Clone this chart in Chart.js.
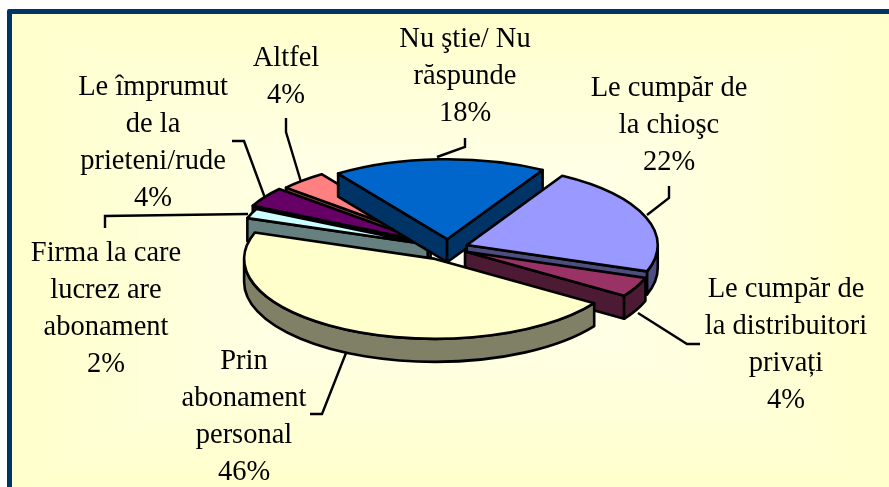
<!DOCTYPE html>
<html>
<head>
<meta charset="utf-8">
<style>
html,body{margin:0;padding:0;background:#fff;width:889px;height:487px;overflow:hidden}
#panel{position:absolute;left:7px;top:9px;width:900px;height:500px;box-sizing:border-box;border:5px solid #003366;border-radius:2px;
background-image:linear-gradient(to right,#FFFFCC 0,#FFFFF4 50%,#FFFFCC 100%),linear-gradient(to bottom,#FFFFCC 0,#FFFFF4 50%,#FFFFCC 100%);
background-size:877px 474px;background-repeat:no-repeat;background-blend-mode:darken}
#c{position:absolute;left:0;top:0}
</style>
<script src="https://cdn.jsdelivr.net/npm/chart.js@4"></script>
</head>
<body>
<div id="panel"></div>
<canvas id="c" width="889" height="487"></canvas>
<script>
// Data
const categories = ["Le cumpăr de la chioşc","Le cumpăr de la distribuitori privați","Prin abonament personal","Firma la care lucrez are abonament","Le împrumut de la prieteni/rude","Altfel","Nu ştie/ Nu răspunde"];
const values = [22,4,46,2,4,4,18];
const labelLines = [
  ["Le cumpăr de","la chioşc"],
  ["Le cumpăr de","la distribuitori","privați"],
  ["Prin","abonament","personal"],
  ["Firma la care","lucrez are","abonament"],
  ["Le împrumut","de la","prieteni/rude"],
  ["Altfel"],
  ["Nu ştie/ Nu","răspunde"]
];

// Styles
const topColors  = ["#9999FF","#993366","#FFFFCC","#CCFFFF","#660066","#FF8080","#0066CC"];
const wallColors = ["#4D4D80","#4D1A33","#808066","#668080","#330033","#804040","#003366"];

// Layout of the pseudo-3D pie
const pieRadius = 191;
const tilt = 80/191;
const depth = 23;
const explode = [20,19,29,22,29,26,21];
const paintOrder = [5,4,3,6,0,1,2];
const labelCenters = [669,786,244,106,153,286,465];
const labelTops = [89,290,362,254,88,59,40];
const lineStep = 36.7;
const leaders = [
  [[647,215],[669,198],[669,186]],
  [[638,313],[687,344],[700,344]],
  [[346,353],[322,414],[310,414]],
  [[248,214],[105,216],[105,228]],
  [[265,198],[244,141],[232,141]],
  [[301,182],[286,132],[286,118]],
  [[437,157],[465,147],[465,138]]
];

const pie3d = {
  id:"pie3d",
  beforeDatasetsDraw(chart){
    const ctx = chart.ctx;
    const arcs = chart.getDatasetMeta(0).data;
    ctx.lineJoin = "round";
    paintOrder.forEach(i=>{
      const el = arcs[i];
      const {x:cx,y:cy,startAngle:s,endAngle:e,outerRadius:r} = el.getProps(["x","y","startAngle","endAngle","outerRadius"],true);
      const mid = (s+e)/2, o = explode[i];
      const X = cx+Math.cos(mid)*o, Y = cy+Math.sin(mid)*o*tilt;
      ctx.save();
      ctx.lineWidth = 2.6; ctx.strokeStyle = "#000"; ctx.fillStyle = wallColors[i];
      const side = a=>{
        const px = X+r*Math.cos(a), py = Y+r*tilt*Math.sin(a);
        ctx.beginPath(); ctx.moveTo(X,Y); ctx.lineTo(px,py); ctx.lineTo(px,py+depth); ctx.lineTo(X,Y+depth); ctx.closePath();
        ctx.fill(); ctx.stroke();
      };
      if(Math.cos(s)<0) side(s);
      if(Math.cos(e)>0) side(e);
      const a1 = Math.max(s,0), a2 = Math.min(e,Math.PI);
      if(a2>a1){
        ctx.beginPath();
        ctx.ellipse(X,Y,r,r*tilt,0,a1,a2);
        ctx.ellipse(X,Y+depth,r,r*tilt,0,a2,a1,true);
        ctx.closePath(); ctx.fill(); ctx.stroke();
      }
      // top face: the library's own arc, flattened
      ctx.save();
      ctx.translate(cx,cy); ctx.scale(1,tilt); ctx.translate(-cx,-cy);
      ctx.translate(Math.cos(mid)*o,Math.sin(mid)*o);
      el.draw(ctx);
      ctx.restore();
      ctx.beginPath(); ctx.moveTo(X,Y); ctx.ellipse(X,Y,r,r*tilt,0,s,e); ctx.closePath(); ctx.stroke();
      ctx.restore();
    });
    return false;
  },
  afterDraw(chart){
    const ctx = chart.ctx;
    ctx.save();
    ctx.strokeStyle = "#000"; ctx.lineWidth = 2.4; ctx.lineJoin = "miter";
    leaders.forEach(l=>{
      ctx.beginPath(); l.forEach((p,k)=>k?ctx.lineTo(p[0],p[1]):ctx.moveTo(p[0],p[1])); ctx.stroke();
    });
    ctx.fillStyle = "#000"; ctx.font = "28.5px 'Liberation Serif'"; ctx.textAlign = "center"; ctx.textBaseline = "middle";
    labelLines.forEach((lines,i)=>{
      lines.concat(values[i]+"%").forEach((t,k)=>ctx.fillText(t,labelCenters[i],labelTops[i]+k*lineStep));
    });
    ctx.restore();
  }
};

new Chart(document.getElementById("c"),{
  type:"pie",
  data:{labels:categories,datasets:[{data:values,backgroundColor:topColors,borderWidth:0}]},
  options:{
    responsive:false,animation:false,rotation:30,radius:pieRadius,
    layout:{padding:{left:7,top:9,right:0,bottom:0}},
    plugins:{legend:{display:false},tooltip:{enabled:false},title:{display:false}},
    events:[]
  },
  plugins:[pie3d]
});
</script>
</body>
</html>
